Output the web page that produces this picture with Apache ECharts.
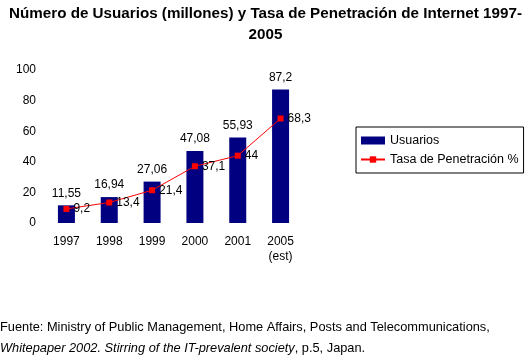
<!DOCTYPE html>
<html><head><meta charset="utf-8">
<script src="https://cdn.jsdelivr.net/npm/echarts@6/dist/echarts.min.js"></script>
<style>html,body{margin:0;padding:0;background:#fff}#c{width:531px;height:362px}</style>
</head><body><div id="c"></div>
<script>
const categories = ['1997','1998','1999','2000','2001','2005\n(est)'];
const usuarios = [11.55, 16.94, 27.06, 47.08, 55.93, 87.2];
const tasa = [9.2, 13.4, 21.4, 37.1, 44, 68.3];
const yTicks = [0, 20, 40, 60, 80, 100];

const fmt = v => String(v).replace('.', ',');
const F = 'Liberation Sans, Arial, sans-serif';
const chart = echarts.init(document.getElementById('c'));
chart.setOption({
  animation: false,
  title: {
    text: 'Número de Usuarios (millones) y Tasa de Penetración de Internet 1997-\n2005',
    left: 'center', top: -2,
    textStyle: { fontFamily: F, fontSize: 15.2, fontWeight: 'bold', color: '#000', lineHeight: 21 }
  },
  graphic: [{
    type: 'text', left: 0, top: 321,
    style: {
      text: '{n|Fuente: Ministry of Public Management, Home Affairs, Posts and Telecommunications,}\n{i|Whitepaper 2002. Stirring of the IT-prevalent society}{n|, p.5, Japan.}',
      rich: {
        n: { fontFamily: F, fontSize: 12.8, fill: '#000', lineHeight: 21 },
        i: { fontFamily: F, fontSize: 12.8, fontStyle: 'italic', fill: '#000', lineHeight: 21 }
      }
    }
  }],
  legend: {
    orient: 'vertical', left: 356, top: 127,
    borderColor: '#000', borderWidth: 1, borderRadius: 0,
    padding: [7, 5, 7, 4], itemGap: 6, itemWidth: 24, itemHeight: 8,
    textStyle: { fontFamily: F, fontSize: 12.5, color: '#000' },
    data: [
      { name: 'Usuarios', icon: 'rect' },
      { name: 'Tasa de Penetración %' }
    ]
  },
  grid: { left: 45, right: 229, top: 70, bottom: 139, containLabel: false },
  xAxis: {
    type: 'category', data: categories,
    axisLine: { show: false }, axisTick: { show: false },
    axisLabel: { fontFamily: F, fontSize: 12, color: '#000', margin: 11, lineHeight: 15 }
  },
  yAxis: {
    type: 'value', min: yTicks[0], max: yTicks[yTicks.length - 1], interval: 20,
    axisLine: { show: false }, axisTick: { show: false }, splitLine: { show: false },
    axisLabel: { fontFamily: F, fontSize: 12, color: '#000', margin: 9 }
  },
  series: [
    {
      name: 'Usuarios', type: 'bar', data: usuarios, barWidth: 17,
      itemStyle: { color: '#000080' },
      label: { show: true, position: 'top', distance: 6, formatter: p => fmt(p.value),
        fontFamily: F, fontSize: 12, color: '#000' }
    },
    {
      name: 'Tasa de Penetración %', type: 'line', data: tasa,
      symbol: 'rect', symbolSize: 6,
      lineStyle: { color: '#ff0000', width: 1 },
      itemStyle: { color: '#ff0000' },
      label: { show: true, position: 'right', distance: 4, formatter: p => fmt(p.value),
        fontFamily: F, fontSize: 12, color: '#000' }
    }
  ]
});
</script></body></html>
